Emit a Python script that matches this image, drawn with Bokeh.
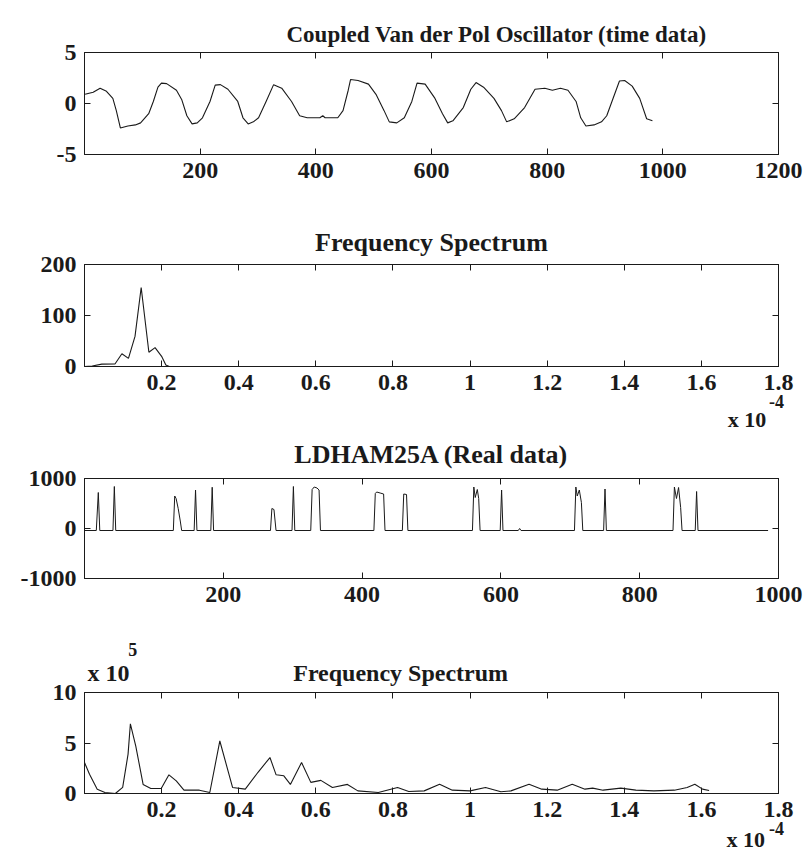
from bokeh.plotting import figure
from bokeh.layouts import column
from bokeh.models import FixedTicker, LinearAxis, Range1d
from bokeh.embed import file_html
from bokeh.resources import INLINE

FONT = "Liberation Serif"
INK = "#1a1a1a"

# ---------------- data ----------------
# Panel 1: Coupled Van der Pol oscillator (time data)
vdp_t = [1, 15, 27, 38, 49, 55, 62, 75, 88, 97, 111, 119, 127, 133, 142, 159, 168, 177, 186, 195,
         204, 217, 226, 235, 248, 265, 274, 283, 292, 301, 314, 327, 341, 358, 372, 385, 407, 412,
         416, 438, 447, 456, 460, 473, 491, 504, 518, 527, 540, 553, 566, 575, 589, 606, 619, 628,
         637, 655, 668, 677, 690, 708, 721, 730, 743, 761, 779, 796, 809, 823, 836, 850, 858, 867,
         881, 894, 903, 912, 925, 934, 947, 960, 972, 982]
vdp_y = [0.9, 1.1, 1.5, 1.2, 0.5, -0.7, -2.4, -2.2, -2.1, -1.9, -1.0, 0.2, 1.6, 2.0, 1.95, 1.3, 0.4,
         -1.2, -2.0, -1.9, -1.4, 0.2, 1.8, 1.85, 1.4, 0.2, -1.4, -2.0, -1.8, -1.4, 0.2, 1.85, 1.5, 0.2,
         -1.2, -1.4, -1.4, -1.2, -1.4, -1.4, -0.7, 1.3, 2.35, 2.25, 1.9, 0.9, -0.7, -1.8, -1.9, -1.4,
         0.2, 2.0, 1.9, 0.5, -1.0, -1.9, -1.7, -0.4, 1.4, 2.05, 1.6, 0.5, -0.7, -1.8, -1.5, -0.4, 1.4,
         1.5, 1.3, 1.5, 1.3, 0.2, -1.4, -2.2, -2.1, -1.8, -1.2, 0.2, 2.2, 2.25, 1.7, 0.5, -1.5, -1.7]

# Panel 2: frequency spectrum of the oscillator (x in units of 1e-4)
sp1_f = [0.0, 0.02, 0.045, 0.079, 0.097, 0.114, 0.131, 0.147, 0.167, 0.183, 0.2, 0.211, 0.22]
sp1_a = [0, 1, 4.6, 5, 25, 16, 59, 155, 28, 37, 20, 3, 0]

# Panel 3: LDHAM25A real data (baseline sits slightly below zero)
ld_x = [0, 17, 19.9, 22, 41, 43, 45, 128, 130, 132, 135, 138, 140, 158, 160, 162, 182, 184, 186,
        268, 270, 273, 276, 299, 301, 303, 326, 328, 331, 335, 338, 340, 417, 419, 421, 426, 431,
        433, 458, 460, 464, 466, 559, 561, 563, 566, 568, 570, 599, 601, 603, 625, 627, 629, 706,
        708, 710, 713, 716, 718, 748, 750, 752, 848, 850, 853, 856, 859, 861, 880, 882, 884, 985]
ld_y = [-40, -40, 720, -40, -40, 840, -40, -40, 650, 600, 400, 150, -40, -40, 770, -40, -40, 825, -40,
        -40, 400, 380, -40, -40, 840, -40, -40, 780, 830, 810, 770, -40, -40, 700, 730, 710, 690,
        -40, -40, 690, 680, -40, -40, 830, 620, 780, 600, -40, -40, 770, -40, -40, 0, -40, -40,
        830, 650, 770, 520, -40, -40, 790, -40, -40, 830, 600, 820, 420, -40, -40, 740, -40, -40]

# Panel 4: frequency spectrum of real data (x in 1e-4, y in 1e5)
sp2_f = [0.0, 0.013, 0.033, 0.053, 0.08, 0.099, 0.113, 0.119, 0.133, 0.152, 0.172, 0.199, 0.219,
         0.238, 0.258, 0.298, 0.325, 0.351, 0.384, 0.417, 0.45, 0.481, 0.497, 0.517, 0.534, 0.563,
         0.587, 0.613, 0.643, 0.682, 0.709, 0.762, 0.812, 0.841, 0.881, 0.921, 0.954, 1.0, 1.04,
         1.08, 1.106, 1.153, 1.186, 1.226, 1.265, 1.298, 1.318, 1.345, 1.391, 1.43, 1.477, 1.53,
         1.563, 1.583, 1.603, 1.62]
sp2_a = [3.07, 1.9, 0.43, 0.1, 0.0, 0.6, 3.9, 6.9, 4.7, 0.9, 0.5, 0.5, 1.85, 1.25, 0.33, 0.33,
         0.1, 5.2, 0.6, 0.43, 2.1, 3.56, 1.85, 1.75, 0.9, 3.07, 1.1, 1.3, 0.6, 0.9, 0.26, 0.1, 0.6,
         0.2, 0.26, 0.92, 0.33, 0.26, 0.6, 0.17, 0.26, 0.92, 0.43, 0.33, 0.92, 0.43, 0.53, 0.33,
         0.53, 0.33, 0.26, 0.33, 0.6, 0.92, 0.43, 0.3]

titles = ["Coupled Van der Pol Oscillator (time data)", "Frequency Spectrum",
          "LDHAM25A (Real data)", "Frequency Spectrum"]
x_ticks_time1 = [200, 400, 600, 800, 1000, 1200]
x_ticks_time2 = [200, 400, 600, 800, 1000]
x_ticks_freq = [0.2, 0.4, 0.6, 0.8, 1, 1.2, 1.4, 1.6, 1.8]
y_ticks = [[-5, 0, 5], [0, 100, 200], [-1000, 0, 1000], [0, 5, 10]]
y_tick_text = [["-5", "0", "5"], ["0", "100", "200"], ["-1000", "0", "1000"], ["0", "5", "10"]]
freq_scale = ["x 10", "-4"]
amp_scale = ["x 10", "5"]

TICK_PX = "24px"


def style_axis(ax, ticks, labels=True, texts=None):
    ax.ticker = FixedTicker(ticks=ticks)
    ax.axis_line_color = INK
    ax.major_tick_line_color = INK
    ax.major_tick_in = 6
    ax.major_tick_out = 0
    ax.minor_tick_line_color = None
    ax.major_label_text_font = FONT
    ax.major_label_text_font_style = "bold"
    if texts is not None:
        ax.major_label_overrides = dict(zip(ticks, texts))
    if labels:
        ax.major_label_text_color = INK
        ax.major_label_text_font_size = TICK_PX
        ax.major_label_standoff = 8
    else:
        ax.major_label_text_color = None
        ax.major_label_text_font_size = "1px"
        ax.major_label_standoff = 0


def text_axis(p, ticks, texts, place, size, standoff):
    ax = LinearAxis(ticker=FixedTicker(ticks=ticks),
                    major_label_overrides=dict(zip(ticks, texts)))
    ax.axis_line_color = None
    ax.major_tick_line_color = None
    ax.minor_tick_line_color = None
    ax.major_tick_in = 0
    ax.major_tick_out = 0
    ax.major_label_text_font = FONT
    ax.major_label_text_font_style = "bold"
    ax.major_label_text_color = INK
    ax.major_label_text_font_size = size
    ax.major_label_standoff = standoff
    p.add_layout(ax, place)


def panel(h, top, bottom, left, right, xr, yr, xt, yt, ytext, title=None, tsize="22px",
          tstand=0, talign="center", toffset=0, margin=None):
    kw = {} if margin is None else {"margin": margin}
    p = figure(width=804, height=h, output_backend="svg", toolbar_location=None,
               x_range=Range1d(*xr), y_range=Range1d(*yr), title=title,
               min_border_top=top, min_border_bottom=bottom,
               min_border_left=left, min_border_right=right, **kw)
    p.grid.grid_line_color = None
    p.outline_line_color = INK
    p.background_fill_color = "white"
    p.border_fill_color = None
    style_axis(p.xaxis[0], xt)
    style_axis(p.yaxis[0], yt, texts=ytext)
    top_ax = LinearAxis()
    right_ax = LinearAxis()
    style_axis(top_ax, xt, labels=False)
    style_axis(right_ax, yt, labels=False)
    p.add_layout(top_ax, "above")
    p.add_layout(right_ax, "right")
    if title is not None:
        p.title.align = talign
        p.title.offset = toffset
        p.title.text_font = FONT
        p.title.text_font_style = "bold"
        p.title.text_font_size = tsize
        p.title.text_color = INK
        p.title.standoff = tstand
    return p


p1 = panel(205, 52, 51, 81, 26, (0, 1200), (-5, 5), x_ticks_time1, y_ticks[0], y_tick_text[0],
           title=titles[0], tsize="23px", tstand=12, talign="left", toffset=202)
p1.line(vdp_t, vdp_y, line_color=INK, line_width=1.1)

p2 = panel(240, 59, 79, 83, 26, (0, 1.8), (0, 200), x_ticks_freq, y_ticks[1], y_tick_text[1],
           title=titles[1], tsize="26px", tstand=16)
p2.line(sp1_f, sp1_a, line_color=INK, line_width=1.1)
text_axis(p2, [1.795], [freq_scale[1]], "below", "18px", 2)
text_axis(p2, [1.718], [freq_scale[0]], "below", "22px", -4)

# third panel overlaps the foot of the second one (transparent border)
p3 = panel(210, 52, 58, 83, 23, (0, 1000), (-1000, 1000), x_ticks_time2, y_ticks[2], y_tick_text[2],
           title=titles[2], tsize="26px", tstand=19, margin=(-19, 0, 0, 0))
p3.line(ld_x, ld_y, line_color=INK, line_width=1.0)

p4 = panel(228, 56, 71, 84, 23, (0, 1.8), (0, 10), x_ticks_freq, y_ticks[3], y_tick_text[3])
p4.line(sp2_f, sp2_a, line_color=INK, line_width=1.1)
text_axis(p4, [1.795], [freq_scale[1]], "below", "18px", 2)
text_axis(p4, [1.715], [freq_scale[0]], "below", "22px", -11)
text_axis(p4, [0.062, 0.82], [amp_scale[0], titles[3]], "above", "24px", 7)
text_axis(p4, [0.125], [amp_scale[1]], "above", "18px", 1)

layout = column(p1, p2, p3, p4, spacing=0)
open("out.html", "w").write(file_html(layout, INLINE))
